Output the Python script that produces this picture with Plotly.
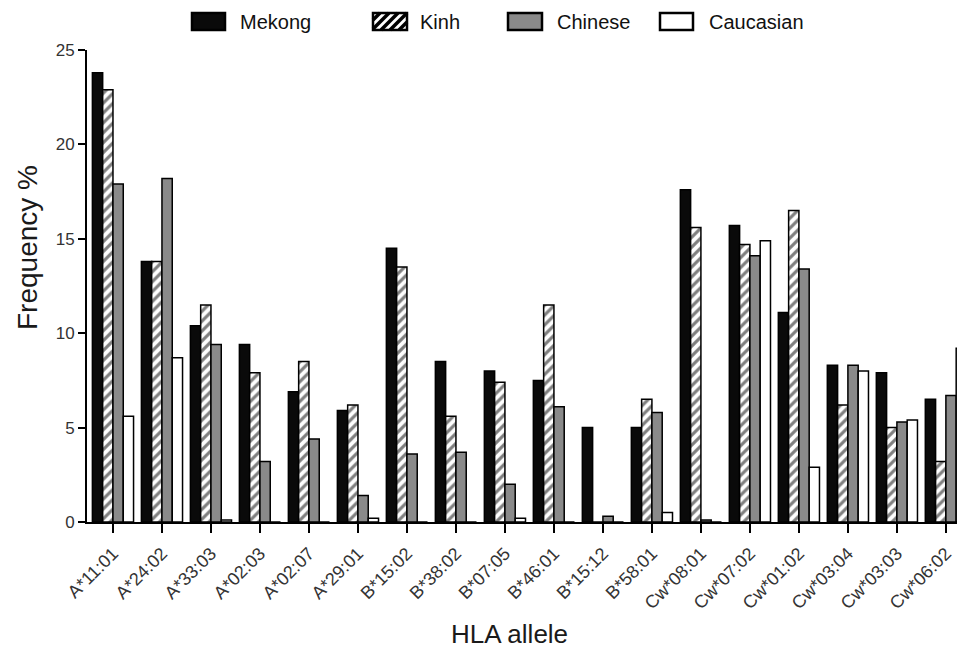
import plotly.graph_objects as go

alleles = ["A*11:01", "A*24:02", "A*33:03", "A*02:03", "A*02:07", "A*29:01",
           "B*15:02", "B*38:02", "B*07:05", "B*46:01", "B*15:12", "B*58:01",
           "Cw*08:01", "Cw*07:02", "Cw*01:02", "Cw*03:04", "Cw*03:03", "Cw*06:02"]
mekong =    [23.8, 13.8, 10.4, 9.4, 6.9, 5.9, 14.5, 8.5, 8.0, 7.5, 5.0, 5.0, 17.6, 15.7, 11.1, 8.3, 7.9, 6.5]
kinh =      [22.9, 13.8, 11.5, 7.9, 8.5, 6.2, 13.5, 5.6, 7.4, 11.5, 0.0, 6.5, 15.6, 14.7, 16.5, 6.2, 5.0, 3.2]
chinese =   [17.9, 18.2, 9.4, 3.2, 4.4, 1.4, 3.6, 3.7, 2.0, 6.1, 0.3, 5.8, 0.1, 14.1, 13.4, 8.3, 5.3, 6.7]
caucasian = [5.6, 8.7, 0.1, 0.0, 0.0, 0.2, 0.0, 0.0, 0.2, 0.0, 0.0, 0.5, 0.0, 14.9, 2.9, 8.0, 5.4, 9.2]
series_names = ["Mekong", "Kinh", "Chinese", "Caucasian"]
y_ticks = [0, 5, 10, 15, 20, 25]

FONT = "Arial, Liberation Sans, sans-serif"
OFF = 8  # page body margin in the browser
PAGE_W, PAGE_H = 965, 655
W, H = PAGE_W - OFF, PAGE_H - OFF
PL, PT, PB = 87, 50, 522          # plot-area edges in page pixels
L, T, R, B = PL - OFF, PT - OFF, 0, PAGE_H - PB
PW, PH = W - L - R, H - T - B

line = dict(color="black", width=1.5)
fig = go.Figure()
fig.add_trace(go.Bar(name=series_names[0], x=alleles, y=mekong,
                     marker=dict(color="#0a0a0a", line=line)))
fig.add_trace(go.Bar(name=series_names[1], x=alleles, y=kinh,
                     marker=dict(color="white", line=line,
                                 pattern=dict(shape="/", fgcolor="black", bgcolor="white",
                                              size=7, solidity=0.45))))
fig.add_trace(go.Bar(name=series_names[2], x=alleles, y=chinese,
                     marker=dict(color="#8a8a8a", line=line)))
fig.add_trace(go.Bar(name=series_names[3], x=alleles, y=caucasian,
                     marker=dict(color="white", line=line)))


def px(x, y):
    """page pixel -> paper coords"""
    return (x - PL) / PW, (PB - y) / PH


shapes = []
annotations = []
legend_items = [(192, 225, "#0a0a0a", False, 238), (373, 407, "white", True, 418),
                (508, 542, "#8a8a8a", False, 555), (660, 693, "white", False, 707)]
sy0, sy1 = 13, 30
for (x0, x1, col, hatch, tx), name in zip(legend_items, series_names):
    a0, b1 = px(x0, sy1)
    a1, b0 = px(x1, sy0)
    shapes.append(dict(type="rect", xref="paper", yref="paper", x0=a0, x1=a1, y0=b1, y1=b0,
                       fillcolor=col, line=dict(color="black", width=2.5), layer="above"))
    if hatch:
        c = x0 + sy0 + 7
        while c < x1 + sy1 - 2:
            xa = max(x0, c - sy1)
            xb = min(x1, c - sy0)
            if xb > xa:
                p0 = px(xa, c - xa)
                p1 = px(xb, c - xb)
                shapes.append(dict(type="line", xref="paper", yref="paper",
                                   x0=p0[0], y0=p0[1], x1=p1[0], y1=p1[1],
                                   line=dict(color="black", width=3.5), layer="above"))
            c += 9
    ax, ay = px(tx, (sy0 + sy1) / 2)
    annotations.append(dict(text=name, xref="paper", yref="paper", x=ax, y=ay,
                            xanchor="left", yanchor="middle", showarrow=False,
                            font=dict(family=FONT, size=20, color="#111")))

tx, ty = px(27, 248)
annotations.append(dict(text="Frequency %", xref="paper", yref="paper", x=tx, y=ty,
                        xanchor="center", yanchor="middle", textangle=-90, showarrow=False,
                        font=dict(family=FONT, size=28, color="#1a1a1a")))
tx, ty = px(509, 634)
annotations.append(dict(text="HLA allele", xref="paper", yref="paper", x=tx, y=ty,
                        xanchor="center", yanchor="middle", showarrow=False,
                        font=dict(family=FONT, size=26, color="#1a1a1a")))

fig.update_layout(
    width=W, height=H, autosize=False,
    margin=dict(l=L, r=R, t=T, b=B, pad=0),
    paper_bgcolor="white", plot_bgcolor="white",
    barmode="group", bargap=0.16, bargroupgap=0,
    showlegend=False,
    shapes=shapes, annotations=annotations,
    font=dict(family=FONT, color="#222"),
    xaxis=dict(range=[-0.53, 17.39], showgrid=False, zeroline=False,
               showline=True, linecolor="black", linewidth=2,
               ticks="outside", ticklen=9, tickwidth=2, tickcolor="black",
               tickangle=-45, automargin=False, ticklabelstandoff=3,
               tickfont=dict(family=FONT, size=18, color="#333")),
    yaxis=dict(range=[0, 25], tickvals=y_ticks, showgrid=False, zeroline=False,
               showline=True, linecolor="black", linewidth=2,
               ticks="outside", ticklen=7, tickwidth=2, tickcolor="black",
               automargin=False,
               tickfont=dict(family=FONT, size=17, color="#333")),
)

fig.write_html("out.html")
